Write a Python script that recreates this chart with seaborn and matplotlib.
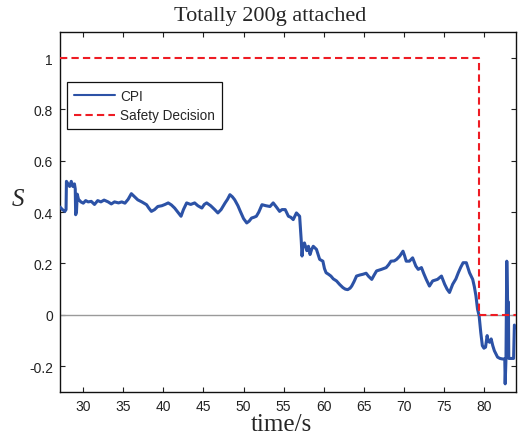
import matplotlib
matplotlib.use("Agg")
import matplotlib.pyplot as plt
import seaborn as sns
import pandas as pd

# ---- data ----
cpi_t = [27.1, 27.4, 27.7, 27.85, 27.9, 28.1, 28.3, 28.5, 28.7, 28.9, 29.0, 29.05, 29.15, 29.25, 29.4,
         29.7, 30.0, 30.3, 30.6, 31.0, 31.4, 31.8, 32.2, 32.6, 33.1, 33.5, 33.9, 34.4, 34.8, 35.2,
         35.6, 36.0, 36.4, 36.8, 37.3, 37.9, 38.2, 38.5, 38.9, 39.3, 39.8, 40.2, 40.6, 41.0, 41.4,
         41.8, 42.2, 42.5, 42.9, 43.4, 43.9, 44.3, 44.8, 45.1, 45.4, 45.9, 46.4, 46.8, 47.2, 47.7,
         48.0, 48.3, 48.6, 48.9, 49.3, 49.6, 50.0, 50.4, 50.7, 51.0, 51.3, 51.6, 51.9, 52.3, 52.8,
         53.3, 53.7, 54.1, 54.5, 54.8, 55.2, 55.6, 55.9, 56.2, 56.6, 57.0, 57.2, 57.3, 57.4, 57.6,
         57.9, 58.1, 58.3, 58.5, 58.7, 59.1, 59.3, 59.5, 59.9, 60.1, 60.3, 60.6, 60.9, 61.2, 61.6,
         62.0, 62.4, 62.7, 63.0, 63.3, 63.5, 63.8, 64.1, 64.5, 64.9, 65.3, 65.6, 66.0, 66.3, 66.6,
         67.2, 67.8, 68.1, 68.4, 68.8, 69.1, 69.5, 69.9, 70.1, 70.3, 70.7, 71.1, 71.5, 71.8, 72.2,
         72.5, 72.8, 73.2, 73.6, 74.2, 74.7, 75.1, 75.4, 75.7, 76.1, 76.5, 76.8, 77.1, 77.4, 77.8,
         78.2, 78.6, 78.8, 79.0, 79.2, 79.4, 79.6, 79.8, 80.0, 80.2, 80.4, 80.5, 80.7, 80.9, 81.1,
         81.3, 81.7, 82.0, 82.3, 82.6, 82.65, 82.75, 82.85, 82.95, 83.0, 83.05, 83.1, 83.4, 83.7,
         83.8, 83.95]
cpi_v = [0.42, 0.41, 0.403, 0.41, 0.52, 0.51, 0.50, 0.52, 0.50, 0.51, 0.49, 0.39, 0.40, 0.47, 0.45,
         0.44, 0.435, 0.445, 0.44, 0.442, 0.43, 0.445, 0.44, 0.447, 0.44, 0.432, 0.44, 0.436, 0.44, 0.435,
         0.45, 0.472, 0.46, 0.448, 0.44, 0.429, 0.415, 0.403, 0.41, 0.422, 0.425, 0.43, 0.436, 0.428, 0.416,
         0.40, 0.384, 0.41, 0.436, 0.43, 0.436, 0.425, 0.416, 0.43, 0.436, 0.425, 0.41, 0.397, 0.41, 0.436,
         0.45, 0.468, 0.46, 0.448, 0.425, 0.403, 0.375, 0.358, 0.365, 0.377, 0.38, 0.384, 0.40, 0.429, 0.425,
         0.422, 0.436, 0.42, 0.403, 0.41, 0.41, 0.384, 0.38, 0.371, 0.397, 0.384, 0.29, 0.229, 0.267, 0.28,
         0.25, 0.267, 0.235, 0.255, 0.267, 0.255, 0.235, 0.216, 0.209, 0.18, 0.164, 0.158, 0.151, 0.14, 0.132,
         0.118, 0.106, 0.10, 0.098, 0.104, 0.112, 0.13, 0.151, 0.155, 0.158, 0.162, 0.15, 0.138, 0.155, 0.171,
         0.177, 0.184, 0.195, 0.209, 0.21, 0.216, 0.229, 0.248, 0.23, 0.209, 0.209, 0.222, 0.19, 0.177, 0.184,
         0.16, 0.138, 0.112, 0.132, 0.138, 0.151, 0.119, 0.10, 0.087, 0.119, 0.14, 0.164, 0.185, 0.203, 0.203,
         0.164, 0.138, 0.11, 0.074, 0.022, -0.004, -0.068, -0.12, -0.13, -0.126, -0.081, -0.10, -0.107, -0.094, -0.12,
         -0.14, -0.165, -0.17, -0.172, -0.172, -0.269, -0.17, 0.209, 0.05, -0.02, 0.05, -0.17, -0.17, -0.17,
         -0.04, -0.05]

safety_t = [27.1, 79.4, 79.4, 84.0]
safety_v = [1, 1, 0, 0]

x_ticks = [30, 35, 40, 45, 50, 55, 60, 65, 70, 75, 80]
y_ticks = [-0.2, 0, 0.2, 0.4, 0.6, 0.8, 1]
y_tick_labels = ['-0.2', '0', '0.2', '0.4', '0.6', '0.8', '1']

sns.set_style("ticks")
plt.rcParams['font.family'] = ['Liberation Sans', 'DejaVu Sans']

fig = plt.figure(figsize=(5.22, 4.35), dpi=100)
ax = fig.add_axes([0.115, 0.097, 0.8735, 0.826])

ax.axhline(0, color='#9a9a9a', lw=1.0, zorder=1)

cpi_df = pd.DataFrame({'t': cpi_t, 'v': cpi_v})
saf_df = pd.DataFrame({'t': safety_t, 'v': safety_v})

sns.lineplot(data=cpi_df, x='t', y='v', ax=ax, color='#2C52A6', lw=2.2,
             sort=False, estimator=None, label='CPI', zorder=3)
sns.lineplot(data=saf_df, x='t', y='v', ax=ax, color='#EE1C24', lw=1.5,
             sort=False, estimator=None, label='Safety Decision', zorder=4,
             dashes=False, linestyle=(0, (3.5, 2)))

ax.set_xlim(27.1, 84.0)
ax.set_ylim(-0.3, 1.1)
ax.set_xticks(x_ticks)
ax.set_yticks(y_ticks)
ax.set_yticklabels(y_tick_labels)
ax.tick_params(direction='in', length=3.5, width=0.8, top=True, right=True,
               labelsize=10, colors='#222222', pad=5)
ax.tick_params(axis='both', labelcolor='#222222')
for s in ax.spines.values():
    s.set_visible(True)
    s.set_color('#111111')
    s.set_linewidth(1.0)

ax.set_xlabel('time/s', fontfamily='Liberation Serif', fontsize=18, labelpad=0)
ax.xaxis.set_label_coords(0.485, -0.058)
ax.xaxis.label.set_va('top')
ax.set_ylabel('S', fontfamily='Liberation Serif', fontstyle='italic', fontsize=18,
              rotation=0, labelpad=10)
ax.yaxis.label.set_va('center')
ax.yaxis.label.set_ha('center')
ax.yaxis.set_label_coords(-0.092, 0.536)

fig.text(270 / 522, 1 - 16 / 435, 'Totally 200g attached', ha='center', va='center',
         fontfamily='Liberation Serif', fontsize=16)

leg = ax.legend(loc='upper left', bbox_to_anchor=(0.015, 0.862), borderaxespad=0,
                fancybox=False, framealpha=1, edgecolor='#111111', fontsize=9.8,
                handlelength=3.0, borderpad=0.5, labelspacing=0.4, handletextpad=0.4)
leg.get_frame().set_linewidth(0.9)
for h in leg.get_lines():
    h.set_linewidth(1.5)

fig.savefig('out.png', dpi=100)
